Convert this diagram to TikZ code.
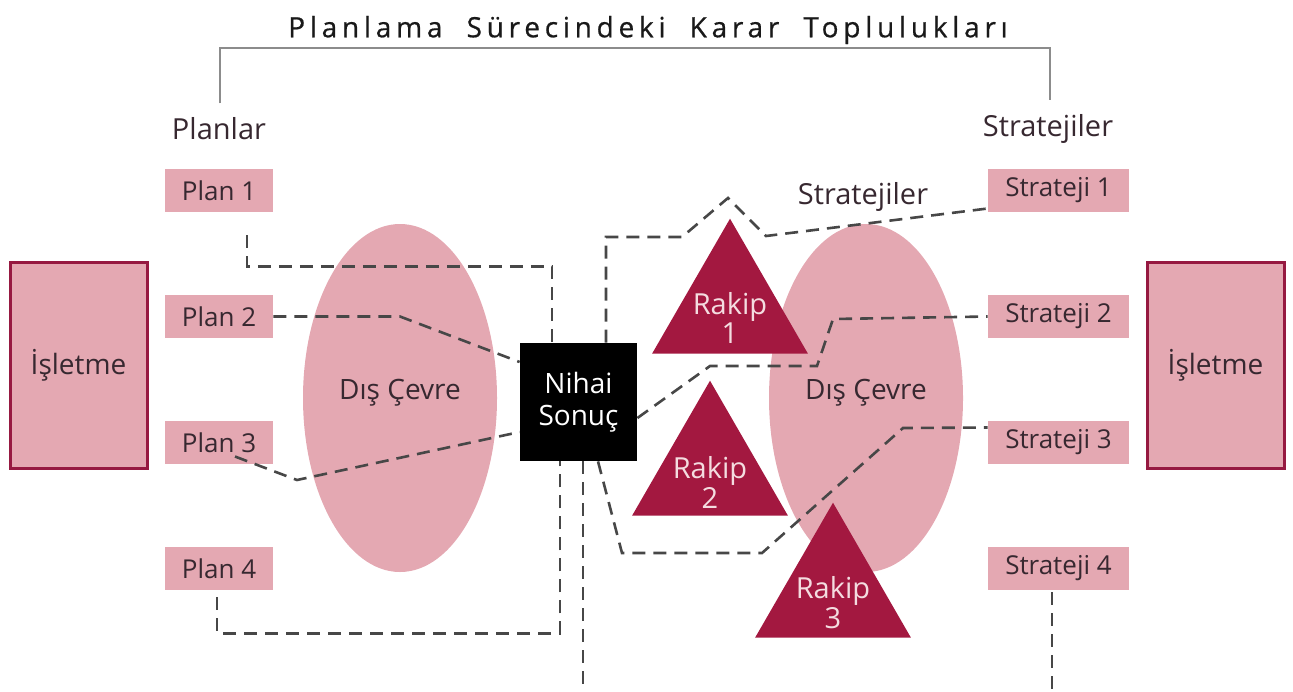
\documentclass[tikz,border=0pt]{standalone}
\usepackage{fontspec}
\setmainfont{Open Sans}
\usetikzlibrary{shapes.geometric,calc}
\definecolor{rose}{RGB}{228,168,178}
\definecolor{wine}{RGB}{163,24,64}
\definecolor{winebd}{RGB}{150,25,65}
\definecolor{ink}{RGB}{55,40,48}

\begin{document}
\begin{tikzpicture}[x=0.5pt,y=-0.5pt,
  plan/.style={fill=rose, minimum width=54pt, minimum height=21.5pt, inner sep=0, text=ink, font=\fontsize{13}{15}\selectfont},
  strat/.style={plan, minimum width=70.5pt},
  firm/.style={fill=rose, draw=winebd, line width=1.5pt, minimum width=68.5pt, minimum height=103pt, inner sep=0, text=ink, font=\fontsize{14}{16}\selectfont},
  env/.style={ellipse, fill=rose, minimum width=97pt, minimum height=174pt, inner sep=0},
  envtext/.style={text=ink, font=\fontsize{14}{16}\selectfont},
  rival/.style={regular polygon, regular polygon sides=3, fill=wine, minimum size=90pt, inner sep=0, outer sep=0},
  rivaltext/.style={text=rose!40, align=center, font=\fontsize{14.5}{13.5}\selectfont},
  head/.style={text=ink, inner sep=0, font=\fontsize{14.5}{16}\selectfont},
  dline/.style={draw=black!72, line width=1.3pt, dash pattern=on 6.5pt off 4pt},
  bracket/.style={draw=black!45, line width=0.8pt}
]
\useasboundingbox (0,0) rectangle (1293,691);

% title and bracket
\node[text=black!90, font=\fontsize{14}{16}\selectfont] (title) at (648,30)
  {\addfontfeature{LetterSpace=17,FakeBold=0.6}Planlama\ \ Sürecindeki\ \ Karar\ \ Toplulukları};
\node[head] (planlar) at (219,129) {Planlar};
\node[head] (stratlar) at (1048,129) {Stratejiler};
\draw[bracket] ($(planlar.north)+(1,-14)$) |- ($(title.center)+(0,18)$) -| ($(stratlar.north)+(2,-14)$);
\node[head] (stratmid) at (863,197) {Stratejiler};

% environments
\node[env] (envL) at (400,398) {};
\node[envtext] (envLt) at (400,393) {Dış Çevre};
\node[env] (envR) at (866,398) {};

% rivals
\node[rival] (rakip1) at (730,308.7) {};
\node[rival] (rakip2) at (710,470.7) {};
\node[envtext] (envRt) at (866,393) {Dış Çevre};
\node[rival] (rakip3) at (833,592.7) {};
\node[rivaltext] (rakip1t) at (730,318) {Rakip\\1};
\node[rivaltext] (rakip2t) at (710,482) {Rakip\\2};
\node[rivaltext] (rakip3t) at (833,603) {Rakip\\3};

% plans and strategies
\foreach \i/\y in {1/190.5, 2/316.5, 3/442.5, 4/568.5}{
  \node[plan] (plan\i) at (219,\y) {Plan \i};
  \node[strat] (strat\i) at (1058.5,\y) {Strateji \i};
}

\node[firm] (firmL) at (78.5,365.5) {İşletme};
\node[firm] (firmR) at (1215.5,365.5) {İşletme};

\node[fill=black, text=white, minimum width=58.5pt, minimum height=59pt, inner sep=0, align=center,
  font=\fontsize{14}{16}\selectfont] (nihai) at (578.5,402) {Nihai\\Sonuç};

\coordinate (outA) at (583,700);
\coordinate (outB) at (1052,700);

% connections
\draw[dline] ($(plan1.south)+(28,23)$) |- ($(nihai.north)+(-26.5,-76)$) -- ($(nihai.north)+(-26.5,0)$);
\draw[dline] (plan2.east) -- (400,316.5) -- ($(nihai.west)+(0,-40)$);
\draw[dline] ($(plan3.center)+(16,14)$) -- (297,480) -- ($(nihai.west)+(0,30)$);
\draw[dline] ($(plan4.south)+(-2,7)$) |- ($(nihai.south)+(-18.5,172)$) -- ($(nihai.south)+(-18.5,0)$);
\draw[dline] ($(nihai.south)+(4.5,0)$) -- (outA);
\draw[dline] ($(nihai.north)+(27.5,0)$) -- (606,237) -- (682,237) -- (728,198) -- (766,236) -- ($(strat1.west)+(0,18)$);
\draw[dline] ($(nihai.east)+(0,16)$) -- (710,366) -- (817,366) -- (833,319) -- (strat2.west);
\draw[dline] ($(nihai.south)+(19.5,0)$) -- (622,553) -- (762,553) -- (903,428) -- ($(strat3.west)+(0,-15)$);
\draw[dline] ($(strat4.south)+(-6.5,2)$) -- (outB);
\end{tikzpicture}
\end{document}
